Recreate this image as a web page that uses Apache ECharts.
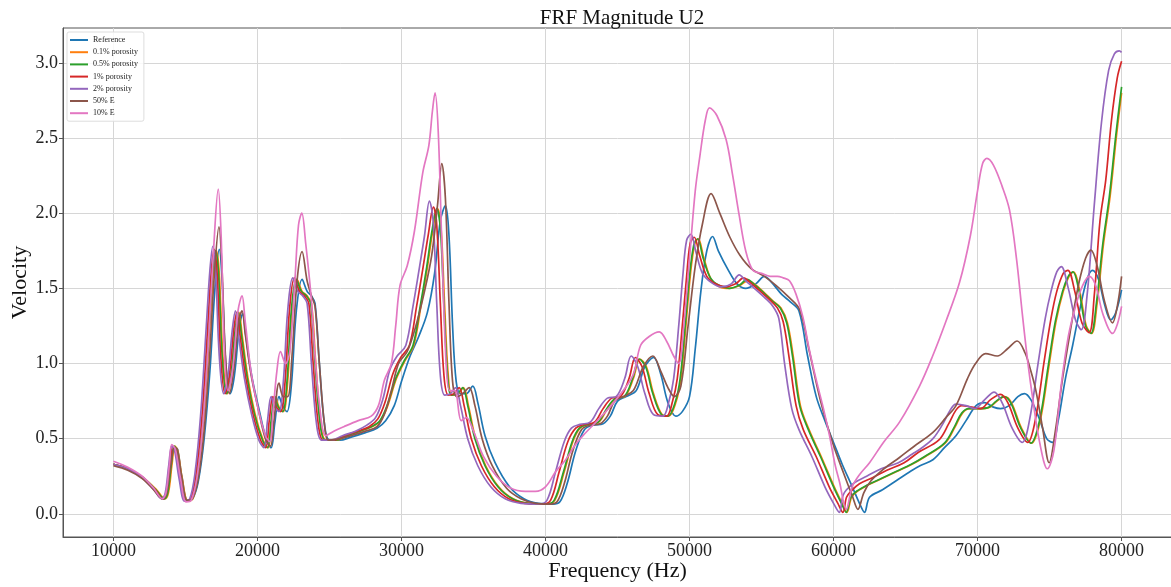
<!DOCTYPE html>
<html>
<head>
    <meta charset="utf-8">
    <title>FRF Magnitude U2</title>
    <script src="https://cdn.jsdelivr.net/npm/echarts@6/dist/echarts.min.js"></script>
    <style>html,body{margin:0;padding:0;background:#fff;}</style>
</head>
<body>
    <div id="main" style="width:1171px;height:587px;"></div>
    <script type="text/javascript">
var seriesNames = ['Reference', '0.1% porosity', '0.5% porosity', '1% porosity', '2% porosity', '50% E', '10% E'];
var xTicks = [10000, 20000, 30000, 40000, 50000, 60000, 70000, 80000];
var yTicks = [0.0, 0.5, 1.0, 1.5, 2.0, 2.5, 3.0];

// [frequency, velocity]
var reference = [[10000,0.33],[11000,0.30],[12000,0.245],[12800,0.17],[13450,0.10],[13700,0.13],[14000,0.32],[14250,0.44],[14450,0.43],[14750,0.25],[15150,0.09],[15500,0.10],[15900,0.22],[16300,0.50],[16700,0.95],[17050,1.50],[17350,1.76],[17550,1.55],[17800,1.00],[18100,0.80],[18400,0.92],[18750,1.25],[18980,1.33],[19200,1.18],[19600,0.92],[20100,0.70],[20600,0.50],[20950,0.44],[21200,0.60],[21500,0.78],[21750,0.72],[22050,0.68],[22350,0.85],[22700,1.35],[23100,1.56],[23450,1.48],[23750,1.45],[24000,1.40],[24300,1.00],[24650,0.60],[25000,0.49],[25700,0.49],[26500,0.51],[27500,0.54],[28300,0.57],[28900,0.62],[29500,0.72],[30000,0.88],[30600,1.05],[31200,1.18],[31800,1.34],[32300,1.60],[32700,1.95],[33050,2.05],[33300,1.85],[33550,1.25],[33800,0.88],[34100,0.80],[34500,0.80],[34950,0.85],[35300,0.74],[35800,0.52],[36500,0.34],[37500,0.18],[38500,0.10],[39500,0.07],[40500,0.065],[41000,0.08],[41500,0.20],[42100,0.42],[42700,0.56],[43300,0.59],[44000,0.60],[44500,0.65],[45000,0.75],[45600,0.78],[46300,0.82],[46900,0.98],[47500,1.04],[48000,0.93],[48500,0.74],[49050,0.65],[49500,0.68],[50000,0.78],[50400,1.10],[50800,1.49],[51200,1.75],[51600,1.845],[52000,1.75],[52700,1.62],[53300,1.53],[53900,1.50],[54600,1.53],[55200,1.58],[55700,1.54],[56400,1.46],[57000,1.41],[57600,1.35],[58200,1.05],[58800,0.78],[59400,0.62],[60000,0.475],[60600,0.33],[61300,0.18],[61800,0.07],[62150,0.01],[62500,0.11],[63400,0.16],[64500,0.23],[65300,0.28],[66000,0.32],[66900,0.36],[67700,0.44],[68500,0.52],[69200,0.62],[69900,0.72],[70500,0.74],[71100,0.71],[71600,0.70],[72200,0.72],[72800,0.78],[73250,0.80],[73700,0.76],[74300,0.63],[74800,0.50],[75200,0.475],[75600,0.62],[76100,0.90],[76600,1.12],[77100,1.36],[77600,1.56],[77980,1.62],[78400,1.56],[78800,1.40],[79250,1.29],[79600,1.34],[80000,1.49]];

var porosity01 = [[10000,0.33],[11000,0.30],[12000,0.245],[13000,0.16],[13570,0.10],[13820,0.14],[14070,0.33],[14270,0.45],[14470,0.42],[14770,0.24],[15170,0.085],[15520,0.10],[15870,0.26],[16300,0.65],[16700,1.25],[16950,1.62],[17150,1.75],[17350,1.60],[17600,1.05],[17900,0.80],[18200,0.92],[18500,1.22],[18720,1.34],[18950,1.18],[19350,0.90],[19850,0.66],[20400,0.49],[20750,0.44],[21000,0.62],[21250,0.78],[21500,0.71],[21800,0.68],[22100,0.88],[22400,1.35],[22750,1.56],[23100,1.48],[23450,1.45],[23750,1.40],[24050,1.00],[24400,0.60],[24750,0.49],[25450,0.49],[26250,0.52],[27150,0.55],[27950,0.58],[28550,0.62],[29050,0.72],[29650,0.90],[30250,1.02],[30850,1.12],[31350,1.38],[31800,1.64],[32150,1.87],[32500,2.03],[32750,1.90],[33000,1.38],[33250,0.92],[33500,0.79],[33950,0.80],[34300,0.84],[34650,0.72],[35150,0.50],[35850,0.32],[36750,0.18],[37750,0.10],[38850,0.07],[40050,0.065],[40650,0.09],[41300,0.28],[41900,0.48],[42400,0.57],[43000,0.595],[43700,0.61],[44300,0.70],[44900,0.77],[45500,0.78],[46100,0.90],[46550,1.03],[47000,0.98],[47500,0.80],[48100,0.66],[48550,0.65],[49050,0.74],[49400,0.90],[49750,1.25],[50050,1.58],[50350,1.79],[50610,1.83],[51000,1.70],[51500,1.56],[52100,1.51],[52800,1.50],[53500,1.52],[54050,1.55],[54500,1.53],[55100,1.48],[55750,1.42],[56350,1.37],[56800,1.27],[57200,1.05],[57700,0.72],[58300,0.56],[59150,0.38],[60050,0.18],[60600,0.07],[60930,0.01],[61250,0.11],[61650,0.15],[62350,0.19],[63250,0.23],[64350,0.28],[65450,0.33],[66350,0.38],[67750,0.47],[68450,0.58],[68950,0.67],[69450,0.70],[70150,0.70],[70850,0.71],[71350,0.75],[71880,0.78],[72350,0.74],[73050,0.57],[73750,0.47],[74350,0.62],[74950,0.98],[75450,1.28],[75950,1.48],[76350,1.58],[76670,1.61],[77100,1.48],[77550,1.25],[77920,1.20],[78300,1.40],[78750,1.80],[79200,2.11],[79650,2.52],[80000,2.80]];

var porosity05 = [[10000,0.33],[11000,0.30],[12000,0.245],[12950,0.16],[13520,0.10],[13770,0.14],[14020,0.33],[14220,0.45],[14420,0.42],[14720,0.24],[15120,0.085],[15470,0.10],[15820,0.26],[16250,0.65],[16650,1.25],[16900,1.62],[17100,1.75],[17300,1.60],[17550,1.05],[17850,0.80],[18150,0.92],[18450,1.22],[18670,1.34],[18900,1.18],[19300,0.90],[19800,0.66],[20350,0.49],[20700,0.44],[20950,0.62],[21200,0.78],[21450,0.71],[21750,0.68],[22050,0.88],[22350,1.35],[22700,1.56],[23050,1.48],[23400,1.45],[23700,1.40],[24000,1.00],[24350,0.60],[24700,0.49],[25400,0.49],[26200,0.52],[27100,0.55],[27900,0.58],[28500,0.62],[29000,0.72],[29600,0.90],[30200,1.02],[30800,1.12],[31300,1.38],[31750,1.64],[32100,1.87],[32450,2.03],[32700,1.90],[32950,1.38],[33200,0.92],[33450,0.79],[33900,0.80],[34250,0.84],[34600,0.72],[35100,0.50],[35800,0.32],[36700,0.18],[37700,0.10],[38800,0.07],[40000,0.065],[40600,0.09],[41250,0.28],[41850,0.48],[42350,0.57],[42950,0.595],[43650,0.61],[44250,0.70],[44850,0.77],[45450,0.78],[46050,0.90],[46500,1.03],[46950,0.98],[47450,0.80],[48050,0.66],[48500,0.65],[49000,0.74],[49350,0.90],[49700,1.25],[50000,1.58],[50300,1.79],[50560,1.83],[50950,1.70],[51450,1.57],[52050,1.52],[52750,1.50],[53450,1.52],[54000,1.56],[54450,1.53],[55050,1.48],[55700,1.42],[56300,1.37],[56750,1.27],[57150,1.05],[57650,0.72],[58250,0.56],[59100,0.38],[60000,0.18],[60550,0.07],[60880,0.01],[61200,0.11],[61600,0.15],[62300,0.19],[63200,0.23],[64300,0.28],[65400,0.33],[66300,0.38],[67700,0.47],[68400,0.58],[68900,0.67],[69400,0.70],[70100,0.70],[70800,0.71],[71300,0.75],[71830,0.78],[72300,0.74],[73000,0.57],[73700,0.47],[74300,0.62],[74900,0.98],[75400,1.28],[75900,1.48],[76300,1.58],[76620,1.61],[77050,1.48],[77500,1.25],[77870,1.20],[78250,1.40],[78700,1.80],[79150,2.11],[79600,2.52],[80000,2.84]];

var porosity1 = [[10000,0.33],[11000,0.30],[12000,0.24],[12900,0.16],[13420,0.10],[13680,0.14],[13930,0.33],[14130,0.45],[14330,0.42],[14630,0.24],[15030,0.085],[15380,0.10],[15730,0.26],[16150,0.65],[16550,1.25],[16800,1.62],[17000,1.76],[17200,1.60],[17450,1.05],[17750,0.80],[18050,0.92],[18350,1.22],[18570,1.34],[18800,1.18],[19200,0.90],[19700,0.66],[20220,0.49],[20570,0.44],[20820,0.62],[21070,0.78],[21320,0.71],[21620,0.68],[21920,0.88],[22220,1.35],[22570,1.57],[22920,1.48],[23270,1.45],[23570,1.40],[23870,1.00],[24220,0.60],[24570,0.49],[25250,0.49],[26050,0.52],[26950,0.55],[27750,0.58],[28350,0.63],[28850,0.74],[29400,0.93],[29950,1.04],[30550,1.12],[31050,1.38],[31500,1.64],[31850,1.85],[32220,2.04],[32450,1.92],[32700,1.40],[32950,0.92],[33250,0.79],[33650,0.80],[34000,0.84],[34350,0.72],[34850,0.50],[35550,0.32],[36450,0.18],[37450,0.10],[38550,0.07],[39750,0.065],[40350,0.09],[40950,0.28],[41550,0.48],[42100,0.57],[42700,0.595],[43400,0.61],[44000,0.70],[44600,0.77],[45200,0.78],[45800,0.90],[46250,1.04],[46700,0.98],[47200,0.80],[47800,0.66],[48400,0.65],[48800,0.74],[49150,0.90],[49500,1.25],[49800,1.58],[50050,1.80],[50330,1.84],[50700,1.72],[51200,1.58],[51800,1.53],[52500,1.51],[53200,1.53],[53750,1.57],[54200,1.54],[54800,1.49],[55500,1.43],[56100,1.37],[56500,1.28],[56900,1.05],[57400,0.72],[57900,0.56],[58800,0.38],[59700,0.18],[60300,0.07],[60650,0.01],[60900,0.11],[61200,0.15],[61800,0.20],[62700,0.24],[63700,0.29],[64900,0.34],[65900,0.41],[67300,0.49],[68000,0.60],[68500,0.69],[68900,0.72],[69600,0.71],[70200,0.70],[70900,0.76],[71600,0.795],[72100,0.74],[72800,0.57],[73480,0.475],[74000,0.62],[74600,1.00],[75100,1.30],[75500,1.48],[75950,1.60],[76270,1.62],[76750,1.48],[77250,1.27],[77750,1.205],[78100,1.45],[78500,1.95],[78900,2.22],[79300,2.62],[79700,2.90],[80000,3.01]];

var porosity2 = [[10000,0.33],[11000,0.30],[12000,0.24],[12800,0.16],[13350,0.10],[13600,0.14],[13850,0.33],[14050,0.45],[14250,0.42],[14550,0.24],[14950,0.085],[15300,0.10],[15650,0.26],[16050,0.65],[16450,1.25],[16700,1.62],[16900,1.78],[17100,1.60],[17350,1.05],[17650,0.80],[17950,0.92],[18250,1.22],[18470,1.35],[18700,1.18],[19100,0.90],[19600,0.66],[20100,0.49],[20450,0.44],[20700,0.62],[20950,0.78],[21200,0.71],[21500,0.68],[21800,0.88],[22100,1.35],[22450,1.57],[22800,1.48],[23150,1.45],[23450,1.40],[23750,1.00],[24100,0.60],[24450,0.49],[25100,0.49],[25900,0.52],[26800,0.55],[27600,0.59],[28200,0.64],[28700,0.76],[29200,0.96],[29700,1.05],[30300,1.12],[30800,1.38],[31250,1.64],[31600,1.85],[31940,2.08],[32200,1.95],[32450,1.40],[32700,0.92],[33000,0.79],[33400,0.80],[33750,0.84],[34100,0.72],[34600,0.50],[35300,0.32],[36200,0.18],[37200,0.10],[38300,0.07],[39500,0.065],[40100,0.09],[40700,0.28],[41300,0.48],[41800,0.57],[42400,0.595],[43100,0.61],[43700,0.70],[44300,0.77],[44900,0.78],[45500,0.90],[45950,1.05],[46400,0.98],[46900,0.80],[47500,0.66],[48150,0.65],[48550,0.74],[48900,0.90],[49250,1.25],[49550,1.60],[49800,1.82],[50100,1.86],[50450,1.74],[50900,1.60],[51500,1.54],[52200,1.51],[52900,1.53],[53450,1.59],[53900,1.55],[54500,1.50],[55200,1.44],[55800,1.38],[56200,1.30],[56600,1.00],[57100,0.70],[57600,0.56],[58500,0.38],[59400,0.18],[60000,0.07],[60400,0.01],[60650,0.12],[60900,0.16],[61500,0.21],[62300,0.25],[63300,0.30],[64500,0.34],[65500,0.40],[66000,0.43],[66900,0.50],[67600,0.60],[68100,0.69],[68500,0.73],[69200,0.72],[69800,0.70],[70500,0.76],[71150,0.81],[71700,0.74],[72400,0.57],[73100,0.475],[73600,0.62],[74200,1.00],[74700,1.30],[75100,1.48],[75500,1.61],[75810,1.645],[76300,1.50],[76800,1.29],[77200,1.225],[77600,1.45],[78100,2.05],[78600,2.60],[79100,2.95],[79500,3.06],[79840,3.08],[80000,3.07]];

var e50 = [[10000,0.32],[11000,0.29],[12000,0.235],[12800,0.16],[13420,0.10],[13680,0.13],[13980,0.32],[14230,0.44],[14430,0.43],[14730,0.25],[15120,0.09],[15470,0.10],[15870,0.22],[16270,0.52],[16650,1.00],[17000,1.58],[17330,1.91],[17530,1.65],[17780,1.05],[18050,0.80],[18350,0.95],[18700,1.28],[18930,1.35],[19150,1.20],[19550,0.93],[20050,0.70],[20550,0.50],[20900,0.45],[21150,0.62],[21500,0.87],[21800,0.78],[22100,0.78],[22400,1.05],[22750,1.55],[23100,1.745],[23450,1.55],[23750,1.45],[24000,1.38],[24300,1.00],[24650,0.60],[24950,0.49],[25700,0.50],[26500,0.52],[27500,0.55],[28300,0.58],[28800,0.66],[29300,0.82],[29800,1.00],[30400,1.08],[31000,1.25],[31600,1.48],[32100,1.72],[32500,2.05],[32800,2.33],[33050,2.10],[33300,1.40],[33550,0.88],[33850,0.78],[34250,0.80],[34700,0.84],[35100,0.72],[35600,0.50],[36300,0.32],[37300,0.17],[38300,0.10],[39300,0.07],[40300,0.065],[40800,0.08],[41300,0.20],[41900,0.42],[42500,0.56],[43100,0.59],[43800,0.60],[44300,0.65],[44800,0.75],[45400,0.78],[46100,0.82],[46800,0.98],[47450,1.05],[48000,0.95],[48500,0.84],[48950,0.78],[49400,0.85],[49900,1.25],[50400,1.65],[50900,1.93],[51500,2.13],[52100,2.00],[52780,1.845],[53500,1.72],[54300,1.63],[55200,1.58],[56000,1.52],[56800,1.45],[57640,1.36],[58300,1.09],[59100,0.75],[59950,0.47],[60700,0.27],[61300,0.12],[61690,0.03],[62100,0.14],[62600,0.22],[63500,0.30],[64580,0.375],[65600,0.45],[66880,0.54],[67800,0.64],[68500,0.72],[69300,0.90],[69860,1.00],[70560,1.066],[71370,1.05],[72100,1.10],[72750,1.15],[73300,1.07],[73700,0.95],[74050,0.82],[74500,0.58],[74970,0.34],[75400,0.55],[75900,0.90],[76500,1.25],[77000,1.52],[77500,1.70],[77870,1.755],[78300,1.65],[78800,1.42],[79370,1.27],[79700,1.38],[80000,1.58]];

var e10 = [[10000,0.35],[11000,0.31],[12000,0.25],[12800,0.17],[13400,0.10],[13650,0.14],[13900,0.34],[14050,0.46],[14300,0.43],[14650,0.24],[15050,0.08],[15400,0.09],[15800,0.24],[16200,0.58],[16600,1.15],[16950,1.75],[17280,2.16],[17480,1.85],[17700,1.10],[17950,0.82],[18300,0.98],[18650,1.35],[18930,1.45],[19150,1.28],[19550,0.95],[20050,0.70],[20550,0.52],[20850,0.48],[21100,0.70],[21350,0.95],[21600,1.08],[21950,1.00],[22250,1.08],[22600,1.55],[22850,1.92],[23080,2.00],[23350,1.80],[23730,1.44],[24000,1.05],[24300,0.73],[24750,0.52],[25300,0.55],[26000,0.58],[27000,0.62],[27900,0.65],[28400,0.72],[28820,0.89],[29300,1.00],[29600,1.25],[29900,1.52],[30400,1.65],[30900,1.88],[31480,2.27],[31900,2.45],[32150,2.68],[32330,2.80],[32550,2.55],[32800,1.80],[33100,1.00],[33350,0.82],[33700,0.82],[34150,0.62],[34500,0.64],[35000,0.55],[35700,0.38],[36600,0.25],[37600,0.17],[38600,0.15],[39300,0.15],[40000,0.18],[40700,0.28],[41400,0.36],[42000,0.45],[42600,0.52],[43700,0.63],[44900,0.76],[46060,0.92],[46600,1.12],[47200,1.18],[47900,1.21],[48400,1.15],[48900,1.05],[49250,1.00],[49600,1.25],[50000,1.70],[50400,2.15],[50720,2.38],[51100,2.62],[51390,2.70],[51900,2.65],[52540,2.49],[53000,2.25],[53460,1.98],[53900,1.75],[54400,1.62],[55000,1.60],[55600,1.58],[56100,1.58],[56500,1.57],[56940,1.55],[57400,1.46],[57870,1.31],[58300,1.10],[58800,0.89],[59300,0.70],[59720,0.52],[60100,0.33],[60420,0.21],[60880,0.03],[61300,0.18],[61800,0.26],[62500,0.34],[63500,0.48],[64580,0.61],[65970,0.85],[66880,1.05],[67800,1.28],[68750,1.54],[69500,1.85],[70000,2.15],[70350,2.33],[70650,2.365],[71100,2.32],[71700,2.18],[72220,2.02],[72700,1.70],[73130,1.31],[73500,1.00],[73840,0.76],[74300,0.48],[74850,0.30],[75300,0.42],[75800,0.85],[76300,1.18],[76800,1.38],[77300,1.52],[77750,1.58],[78200,1.52],[78700,1.33],[79370,1.20],[79700,1.26],[80000,1.38]];

var allData = [reference, porosity01, porosity05, porosity1, porosity2, e50, e10];
var colors = ['#1f77b4', '#ff7f0e', '#2ca02c', '#d62728', '#9467bd', '#8c564b', '#e377c2'];
var serif = '"Liberation Serif", "DejaVu Serif", serif';

var myChart = echarts.init(document.getElementById('main'));

var series = [];
for (var i = 0; i < seriesNames.length; i++) {
    series.push({
        name: seriesNames[i],
        type: 'line',
        data: allData[i],
        showSymbol: false,
        symbol: 'none',
        smooth: 0.35,
        lineStyle: { width: 1.7, color: colors[i] },
        itemStyle: { color: colors[i] }
    });
}

var option = {
    animation: false,
    backgroundColor: '#ffffff',
    title: {
        text: 'FRF Magnitude U2',
        left: 617,
        top: 3,
        textAlign: 'center',
        textStyle: { fontFamily: serif, fontSize: 21, fontWeight: 'normal', color: '#111' }
    },
    legend: {
        orient: 'vertical',
        left: 67,
        top: 32,
        data: seriesNames,
        icon: 'rect',
        itemWidth: 18,
        itemHeight: 2,
        itemGap: 2.2,
        padding: [3, 6, 3, 3],
        borderColor: '#dddddd',
        borderWidth: 1,
        borderRadius: 2,
        backgroundColor: 'rgba(255,255,255,0.85)',
        textStyle: { fontFamily: serif, fontSize: 8, color: '#222', lineHeight: 10 }
    },
    grid: {
        left: 63,
        right: -1,
        top: 28,
        bottom: 50,
        outerBoundsMode: 'none',
        containLabel: false,
        show: true,
        borderColor: '#555',
        borderWidth: 1
    },
    xAxis: {
        type: 'value',
        min: 6500,
        max: 83500,
        name: 'Frequency (Hz)',
        nameLocation: 'middle',
        nameGap: 23,
        nameMoveOverlap: false,
        nameTextStyle: { fontFamily: serif, fontSize: 22, color: '#111' },
        axisLine: { show: true, onZero: false, lineStyle: { color: '#555' } },
        axisTick: { show: true, length: 4, customValues: xTicks, lineStyle: { color: '#555' } },
        axisLabel: {
            customValues: xTicks,
            fontFamily: serif, fontSize: 18, color: '#222', margin: 5,
            formatter: function (v) { return String(v); }
        },
        splitLine: { show: true, lineStyle: { color: '#d6d6d6', width: 1 } }
    },
    yAxis: {
        type: 'value',
        min: -0.154,
        max: 3.232,
        name: 'Velocity',
        nameLocation: 'middle',
        nameGap: 32,
        nameMoveOverlap: false,
        nameTextStyle: { fontFamily: serif, fontSize: 22, color: '#111' },
        axisLine: { show: true, onZero: false, lineStyle: { color: '#555' } },
        axisTick: { show: true, length: 4, customValues: yTicks, lineStyle: { color: '#555' } },
        axisLabel: {
            customValues: yTicks,
            fontFamily: serif, fontSize: 18, color: '#222', margin: 5,
            formatter: function (v) { return v.toFixed(1); }
        },
        splitLine: { show: true, lineStyle: { color: '#d6d6d6', width: 1 } }
    },
    series: series
};

myChart.setOption(option);
    </script>
</body>
</html>
